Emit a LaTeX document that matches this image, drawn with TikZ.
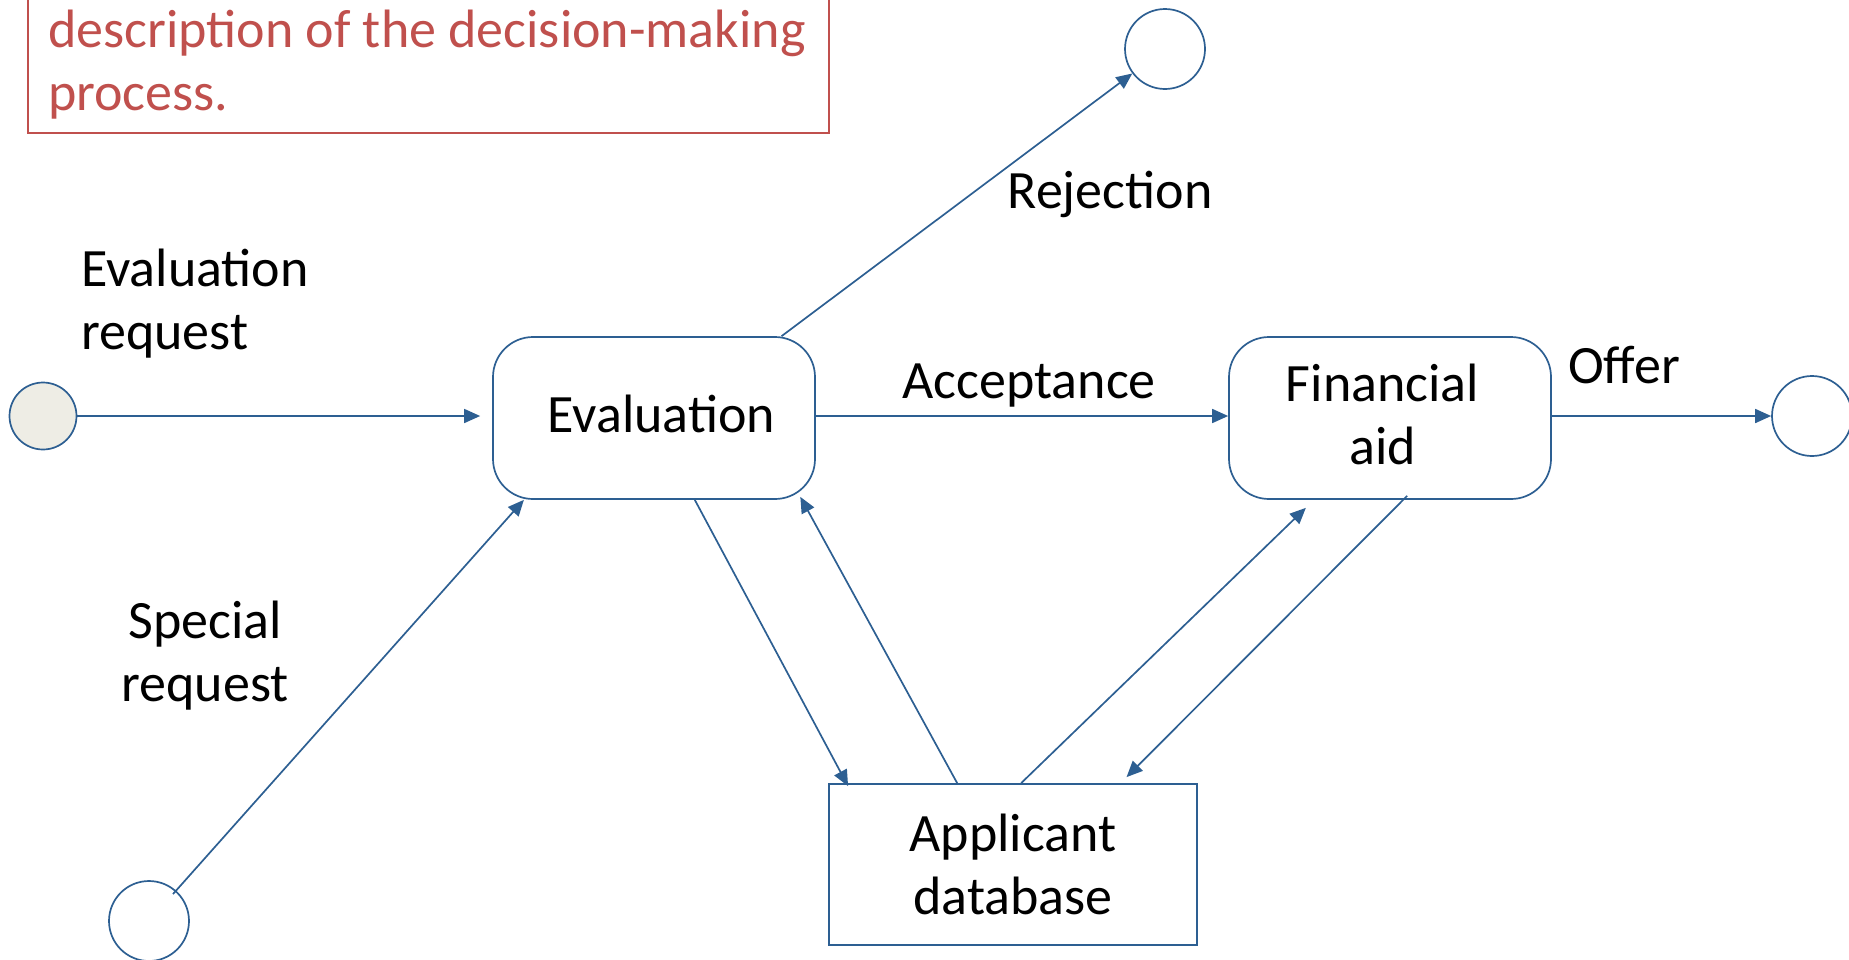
\documentclass[tikz,border=0pt]{standalone}
\usepackage{fontspec}
\setmainfont{Carlito}
\usetikzlibrary{arrows.meta,calc}
\definecolor{flowblue}{HTML}{2D5F92}
\definecolor{noteRed}{HTML}{C0504D}
\definecolor{startfill}{HTML}{EEEDE5}
\begin{document}
\begin{tikzpicture}[x=1pt,y=-1pt,
  every node/.style={font=\fontsize{54}{63}\selectfont},
  state/.style={draw=flowblue,line width=1.7pt,rectangle,rounded corners=40pt,
    minimum width=322pt,minimum height=162pt,align=center,inner sep=0pt},
  store/.style={draw=flowblue,line width=1.8pt,rectangle,
    minimum width=368pt,minimum height=161pt,align=center,inner sep=0pt},
  endpt/.style={draw=flowblue,line width=1.7pt,circle,minimum size=80pt,inner sep=0pt},
  startpt/.style={endpt,fill=startfill,minimum size=67pt},
  lbl/.style={inner sep=0pt,align=center},
  flow/.style={draw=flowblue,line width=1.7pt,-{Triangle[length=16pt,width=14pt]}}]
\useasboundingbox (0,0) rectangle (1849,959);

% note box at the top left
\draw[noteRed,line width=1.4pt] (28,-20) rectangle (829,133);
\node[lbl,anchor=base west,text=noteRed] (note1) at (48,47) {description of the decision-making};
\node[lbl,anchor=base west,text=noteRed] (note2) at (48,110) {process.};

% states
\node[startpt] (start) at (43,416) {};
\node[endpt] (rejend) at (1165,49) {};
\node[endpt] (specstart) at (149,921) {};
\node[endpt] (offerend) at (1812,416) {};
\node[state] (eval) at (654,418) {\hspace*{15pt}Evaluation\rule[-8pt]{0pt}{1pt}};
\node[state] (fin) at (1390,418) {Financial\hspace*{15pt}\\aid\hspace*{15pt}\rule[-8pt]{0pt}{1pt}};
\node[store] (db) at (1013,864.5) {Applicant\\database};

% connectors
\draw[flow,shorten >=12pt] (start.east) -- (start.east -| eval.west);
\draw[flow] ($(eval.north west)!0.894!(eval.north east)$) -- (rejend);
\draw[flow,shorten <=36pt] (specstart.center) -- ($(eval.south west)!0.098!(eval.south east)$);
\draw[flow] (start.east -| eval.east) -- (start.east -| fin.west);
\draw[flow] (offerend.west -| fin.east) -- (offerend.west);
\draw[flow] ($(eval.south west)!0.626!(eval.south east)$) -- ($(db.north west)!0.054!(db.north east)+(0,3)$);
\draw[flow] ($(db.north west)!0.349!(db.north east)$) -- ($(eval.south west)!0.952!(eval.south east)+(0,-3)$);
\draw[flow] ($(db.north west)!0.522!(db.north east)$) -- ($(fin.south west)!0.24!(fin.south east)+(0,8)$);
\draw[flow] ($(fin.south west)!0.553!(fin.south east)+(0,-4)$) -- ($(db.north west)!0.807!(db.north east)+(0,-6)$);

% connector labels
\node[lbl,align=left,anchor=west] (lblevalreq) at (81,304) {Evaluation\\request};
\node[lbl] (lblspecial) at (205,656) {Special\\request};
\node[lbl,anchor=base] (lblrej) at (1110,208) {Rejection};
\node[lbl,anchor=base] (lblacc) at (1029,398) {Acceptance};
\node[lbl,anchor=base] (lbloffer) at (1624,383) {Offer};
\end{tikzpicture}
\end{document}
